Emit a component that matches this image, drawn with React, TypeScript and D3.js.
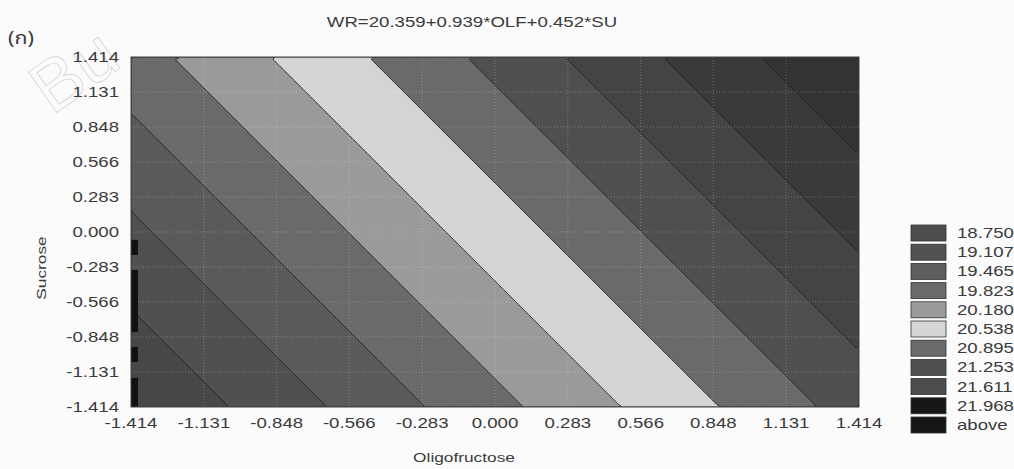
import React, { Component } from "react";
import * as d3 from "d3";

// model from the chart title
const titleText = "WR=20.359+0.939*OLF+0.452*SU";
const intercept = 20.359;
const coefOLF = 0.939;
const coefSU = 0.452;

const axisMin = -1.414;
const axisMax = 1.414;
const tickValues = [-1.414, -1.131, -0.848, -0.566, -0.283, 0, 0.283, 0.566, 0.848, 1.131, 1.414];
const tickLabels = ["-1.414", "-1.131", "-0.848", "-0.566", "-0.283", "0.000", "0.283", "0.566", "0.848", "1.131", "1.414"];

const levels = [18.75, 19.107, 19.465, 19.823, 20.18, 20.538, 20.895, 21.253, 21.611, 21.968];
const legendLabels = ["18.750", "19.107", "19.465", "19.823", "20.180", "20.538", "20.895", "21.253", "21.611", "21.968", "above"];
// grey tones of the scanned bands, lowest band first
const bandColors = ["#474747", "#505050", "#5a5a5a", "#6a6a6a", "#9a9a9a", "#d4d4d4", "#6a6a6a", "#4f4f4f", "#444444", "#3a3a3a", "#333333"];
const swatchColors = ["#4d4d4d", "#525252", "#5d5d5d", "#6a6a6a", "#9a9a9a", "#d6d6d6", "#6a6a6a", "#505050", "#4c4c4c", "#161616", "#161616"];

// black "above" patches along the left edge (Sucrose ranges)
const edgeMarks = [[-0.064, -0.185], [-0.307, -0.807], [-0.928, -1.05], [-1.179, -1.414]];
const edgeMarkWidth = 0.027;

const SX = 1.33;
const FONT = "'Liberation Sans', Arial, sans-serif";

class ContourChart extends Component {
    svgRef = React.createRef<SVGSVGElement>();
    componentDidMount() { this.draw(); }
    componentDidUpdate() { this.draw(); }
    draw() {
        const width = 1014;
        const height = 469;
        const margin = { top: 57, right: 155, bottom: 62, left: 131 };
        const innerWidth = width - margin.left - margin.right;
        const innerHeight = height - margin.top - margin.bottom;

        const svg = d3.select(this.svgRef.current).attr("width", width).attr("height", height);
        svg.selectAll("*").remove();
        svg.append("rect").attr("width", width).attr("height", height).attr("fill", "#fbfbfb");

        // faint watermark of the scan
        svg.append("text")
            .attr("transform", "translate(52,116) rotate(-35)")
            .attr("font-family", FONT)
            .attr("font-size", 72)
            .attr("fill", "none")
            .attr("stroke", "#cdcdcd")
            .attr("stroke-width", 0.7)
            .text("Bu");

        const xScale = d3.scaleLinear().domain([axisMin, axisMax]).range([margin.left, margin.left + innerWidth]);
        const yScale = d3.scaleLinear().domain([axisMin, axisMax]).range([margin.top + innerHeight, margin.top]);

        // grid of model values for d3.contours
        const nx = 140;
        const ny = 70;
        const gx = d3.scaleLinear().domain([0, nx]).range([axisMin, axisMax]);
        const gy = d3.scaleLinear().domain([0, ny]).range([axisMax, axisMin]);
        const values: number[] = new Array(nx * ny);
        for (let j = 0; j < ny; j++) {
            for (let i = 0; i < nx; i++) {
                values[i + j * nx] = intercept + coefOLF * gx(i + 0.5) + coefSU * gy(j + 0.5);
            }
        }
        const contours = d3.contours().size([nx, ny]).thresholds(levels)(values);
        const proj = d3.geoTransform({
            point(x: number, y: number) {
                (this as any).stream.point(xScale(gx(x)), yScale(gy(y)));
            }
        });
        const path = d3.geoPath(proj as any);

        svg.append("clipPath").attr("id", "plotclip")
            .append("rect")
            .attr("x", margin.left).attr("y", margin.top)
            .attr("width", innerWidth).attr("height", innerHeight);

        const plot = svg.append("g").attr("clip-path", "url(#plotclip)");
        plot.append("rect")
            .attr("x", margin.left).attr("y", margin.top)
            .attr("width", innerWidth).attr("height", innerHeight)
            .attr("fill", bandColors[0]);
        plot.selectAll("path.band").data(contours).enter()
            .append("path")
            .attr("class", "band")
            .attr("d", d => path(d as any))
            .attr("fill", (d, i) => bandColors[i + 1])
            .attr("stroke", "#242424")
            .attr("stroke-width", 0.9);

        // dotted grid
        plot.selectAll("line.gx").data(tickValues.slice(1, -1)).enter()
            .append("line")
            .attr("x1", d => xScale(d)).attr("x2", d => xScale(d))
            .attr("y1", margin.top).attr("y2", margin.top + innerHeight)
            .attr("stroke", "rgba(255,255,255,0.25)")
            .attr("stroke-dasharray", "1,2");
        plot.selectAll("line.gy").data(tickValues.slice(1, -1)).enter()
            .append("line")
            .attr("y1", d => yScale(d)).attr("y2", d => yScale(d))
            .attr("x1", margin.left).attr("x2", margin.left + innerWidth)
            .attr("stroke", "rgba(255,255,255,0.25)")
            .attr("stroke-dasharray", "1,2");

        plot.selectAll("rect.edge").data(edgeMarks).enter()
            .append("rect")
            .attr("x", xScale(axisMin))
            .attr("width", xScale(axisMin + edgeMarkWidth) - xScale(axisMin))
            .attr("y", d => yScale(d[0]))
            .attr("height", d => yScale(d[1]) - yScale(d[0]))
            .attr("fill", "#111");

        svg.append("rect")
            .attr("x", margin.left).attr("y", margin.top)
            .attr("width", innerWidth).attr("height", innerHeight)
            .attr("fill", "none").attr("stroke", "#444").attr("stroke-width", 1);

        const addText = (x: number, y: number, str: string, anchor: string, size: number, rot = 0) => {
            svg.append("text")
                .attr("transform", `translate(${x},${y}) rotate(${rot}) scale(${SX},1)`)
                .attr("text-anchor", anchor)
                .attr("font-family", FONT)
                .attr("font-size", size)
                .attr("fill", "#3a3a3a")
                .text(str);
        };

        // tick labels
        tickValues.forEach((v, i) => {
            addText(xScale(v), 428, tickLabels[i], "middle", 14);
            addText(119, yScale(v) + 5, tickLabels[i], "end", 14);
        });

        // titles
        addText(472, 27, titleText, "middle", 14);
        svg.append("text")
            .attr("transform", "translate(8,44) scale(1.2,1)")
            .attr("font-family", "'Noto Sans Thai', 'Noto Sans', 'DejaVu Sans', sans-serif")
            .attr("font-size", 18)
            .attr("fill", "#3a3a3a")
            .text("(ก)");
        addText(464, 462, "Oligofructose", "middle", 13);
        addText(46, 268, "Sucrose", "middle", 13, -90);

        // legend
        const legendY = d3.scaleLinear().domain([0, 10]).range([225, 417]);
        legendLabels.forEach((lab, i) => {
            svg.append("rect")
                .attr("x", 911).attr("y", legendY(i))
                .attr("width", 35).attr("height", 16)
                .attr("fill", swatchColors[i])
                .attr("stroke", "#333").attr("stroke-width", 0.8);
            addText(957, legendY(i) + 13, lab, "start", 14);
        });
    }
    render() {
        return (
            <div style={{ position: "absolute", left: 0, top: 0 }}>
                <svg ref={this.svgRef} style={{ display: "block" }}></svg>
            </div>
        );
    }
}

export default function App() {
    return <ContourChart />;
}
